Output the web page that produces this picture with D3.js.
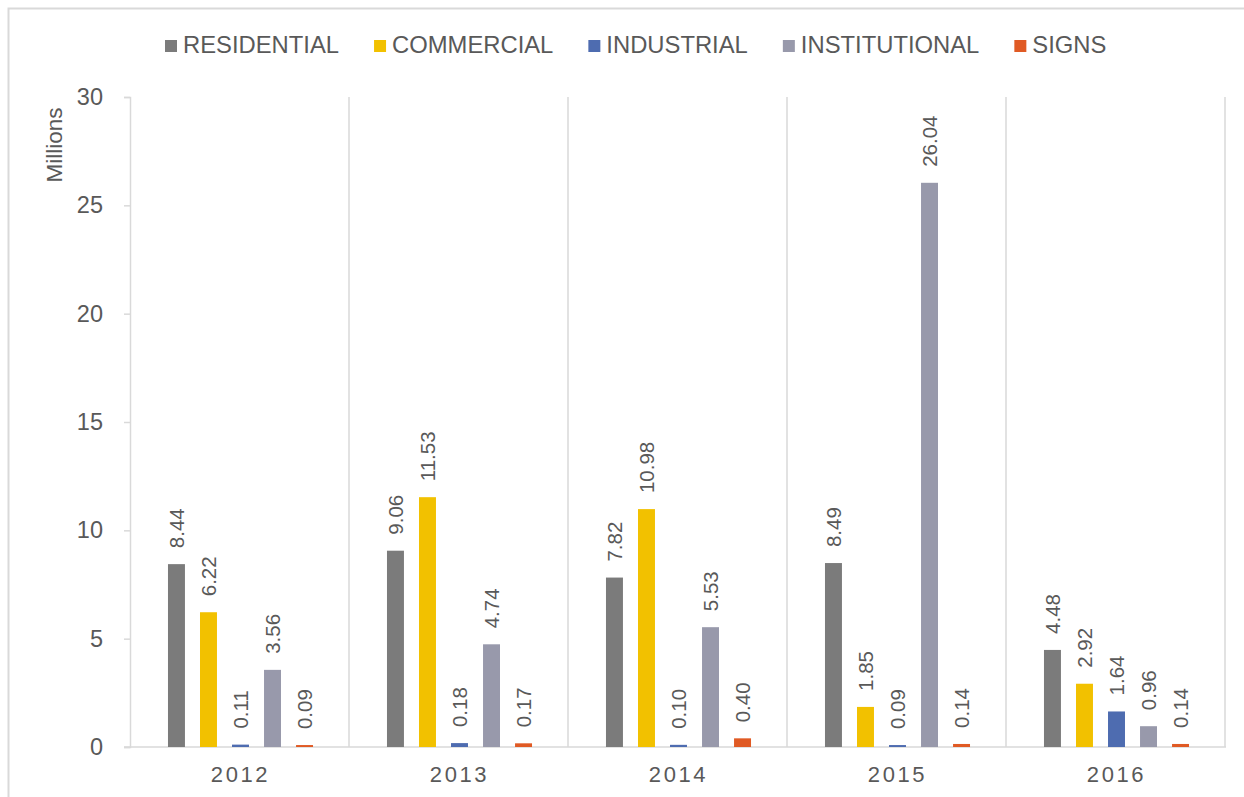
<!DOCTYPE html>
<html>
<head>
<meta charset="utf-8">
<script src="https://cdn.jsdelivr.net/npm/d3@7"></script>
<style>
  html, body { margin: 0; padding: 0; background: #fff; }
  svg { display: block; font-family: "Liberation Sans", Arial, sans-serif; }
</style>
</head>
<body>
<svg id="chart" width="1244" height="797"></svg>
<script>
// Permit values by year, in millions
const years = ["2012", "2013", "2014", "2015", "2016"];
const seriesNames = ["RESIDENTIAL", "COMMERCIAL", "INDUSTRIAL", "INSTITUTIONAL", "SIGNS"];
const residential   = [8.44, 9.06, 7.82, 8.49, 4.48];
const commercial    = [6.22, 11.53, 10.98, 1.85, 2.92];
const industrial    = [0.11, 0.18, 0.10, 0.09, 1.64];
const institutional = [3.56, 4.74, 5.53, 26.04, 0.96];
const signs         = [0.09, 0.17, 0.40, 0.14, 0.14];
const yTicks = [0, 5, 10, 15, 20, 25, 30];

const seriesValues = [residential, commercial, industrial, institutional, signs];
const colors = ["#7b7b7b", "#f2c100", "#4e6cb0", "#9899ab", "#e05a24"];

const textColor = "#595959";
const lineColor = "#d9d9d9";

const svg = d3.select("#chart");

// outer chart frame
svg.append("rect")
  .attr("x", 8.5).attr("y", 8.5)
  .attr("width", 1260).attr("height", 820)
  .attr("fill", "none").attr("stroke", lineColor).attr("stroke-width", 2);

const plot = { left: 130, right: 1225, top: 97, bottom: 747 };

const x0 = d3.scaleBand().domain(years).range([plot.left, plot.right]).padding(0);
const x1 = d3.scaleBand().domain(seriesNames).range([0, x0.bandwidth()])
  .paddingInner(0.47).paddingOuter(1.155);
const y = d3.scaleLinear().domain([0, 30]).range([plot.bottom, plot.top]);
const color = d3.scaleOrdinal().domain(seriesNames).range(colors);

// Y axis
const yAxis = svg.append("g")
  .attr("transform", `translate(${plot.left},0)`)
  .call(d3.axisLeft(y).tickValues(yTicks).tickSize(6).tickPadding(21).tickFormat(d3.format("d")));
yAxis.select(".domain").attr("stroke", lineColor).attr("stroke-width", 1.5);
yAxis.selectAll(".tick line").attr("stroke", lineColor).attr("stroke-width", 1.5);
yAxis.selectAll(".tick text")
  .attr("fill", textColor).attr("font-size", 23.5)
  .attr("font-family", "'Liberation Sans', Arial, sans-serif");

// vertical separators between year groups
const bounds = years.map(yr => x0(yr) + x0.bandwidth());
svg.append("g").selectAll("line").data(bounds).join("line")
  .attr("x1", d => d).attr("x2", d => d)
  .attr("y1", plot.top).attr("y2", plot.bottom)
  .attr("stroke", lineColor).attr("stroke-width", 1.5);

// X axis baseline
svg.append("line")
  .attr("x1", plot.left - 6).attr("x2", plot.right + 1)
  .attr("y1", y(0)).attr("y2", y(0))
  .attr("stroke", lineColor).attr("stroke-width", 1.5);

// year labels
svg.append("g").selectAll("text").data(years).join("text")
  .attr("x", d => x0(d) + x0.bandwidth() / 2 + 1)
  .attr("y", 782)
  .attr("text-anchor", "middle")
  .attr("font-size", 22)
  .attr("letter-spacing", "2.6px")
  .attr("fill", textColor)
  .text(d => d);

// Y axis title
svg.append("text")
  .attr("transform", "translate(62,145) rotate(-90)")
  .attr("text-anchor", "middle")
  .attr("font-size", 22.5)
  .attr("fill", textColor)
  .text("Millions");

// bars
const rows = years.map((yr, i) => ({
  year: yr,
  items: seriesNames.map((s, k) => ({ key: s, value: seriesValues[k][i] }))
}));

const groups = svg.append("g").selectAll("g").data(rows).join("g")
  .attr("transform", d => `translate(${x0(d.year)},0)`);

groups.selectAll("rect").data(d => d.items).join("rect")
  .attr("x", d => x1(d.key) + 1)
  .attr("y", d => y(d.value))
  .attr("width", x1.bandwidth())
  .attr("height", d => y(0) - y(d.value))
  .attr("fill", d => color(d.key));

// rotated value labels above each bar
groups.selectAll("text").data(d => d.items).join("text")
  .attr("transform", d => `translate(${x1(d.key) + 1 + x1.bandwidth() / 2},${y(d.value) - 16}) rotate(-90)`)
  .attr("dy", "0.36em")
  .attr("text-anchor", "start")
  .attr("font-size", 20.5)
  .attr("fill", textColor)
  .text(d => d.value.toFixed(2));

// legend
const legend = svg.append("g").attr("transform", "translate(165,0)");
let lx = 0;
seriesNames.forEach(name => {
  const item = legend.append("g").attr("transform", `translate(${lx},0)`);
  item.append("rect")
    .attr("x", 0).attr("y", 40).attr("width", 12).attr("height", 12)
    .attr("fill", color(name));
  const t = item.append("text")
    .attr("x", 18).attr("y", 53)
    .attr("font-size", 23.8)
    .attr("fill", textColor)
    .text(name);
  lx += 18 + t.node().getComputedTextLength() + 35;
});
</script>
</body>
</html>
